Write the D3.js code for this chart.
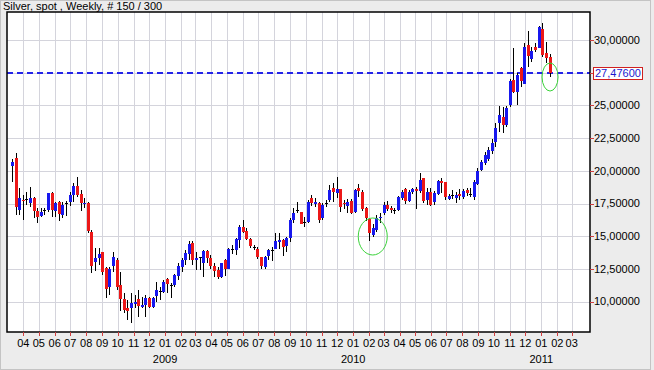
<!DOCTYPE html>
<html lang="en">
<head>
    <meta charset="UTF-8">
    <title>Silver, spot, Weekly</title>
    <style>
        body { margin: 0; background: #ececec; }
        svg { display: block; font-family: Arial, "Liberation Sans", sans-serif; font-size: 11px; }
        .grid line { stroke: #d4d4dc; stroke-width: 1; }
        .wick { stroke: #000; stroke-width: 1; }
    </style>
</head>
<body>
    <script src="https://d3js.org/d3.v7.min.js"></script>
    <script>
        // weekly OHLC, 150 bars, Monday 2008-03-10 .. 2011-01-17
        const weeks = d3.timeMonday.range(new Date(2008, 2, 10), new Date(2011, 0, 18));

        const open = [
            20.31, 21.00, 17.00, 17.80, 17.78, 17.56, 17.94, 16.92, 16.54, 16.95,
            17.00, 18.27, 16.95, 17.64, 16.62, 17.48, 17.64, 18.15, 18.83, 18.22,
            17.46, 17.51, 15.34, 13.05, 13.31, 13.76, 12.54, 11.14, 12.67, 13.18,
            11.27, 10.17, 9.48, 9.48, 9.87, 10.17, 9.61, 9.69, 10.27, 9.56,
            10.45, 10.84, 10.76, 11.70, 11.27, 11.27, 11.96, 12.67, 13.13, 13.64,
            14.50, 13.23, 13.36, 12.97, 13.87, 13.36, 12.72, 12.42, 11.86, 13.18,
            12.49, 14.00, 13.95, 14.76, 15.73, 15.42, 14.79, 14.17, 14.02, 13.38,
            12.67, 13.49, 13.93, 14.07, 14.58, 14.71, 14.20, 14.84, 16.24, 17.00,
            16.88, 16.10, 16.11, 17.89, 17.51, 17.56, 16.37, 17.50, 17.77, 18.66,
            18.30, 18.58, 17.55, 17.30, 17.72, 16.88, 18.66, 18.41, 17.13, 16.32,
            15.05, 15.47, 16.40, 16.75, 17.39, 17.13, 16.95, 17.00, 17.97, 18.58,
            17.72, 18.33, 18.58, 18.48, 19.42, 17.82, 18.40, 17.56, 18.28, 19.25,
            19.17, 17.82, 18.15, 17.90, 18.20, 18.02, 18.53, 18.22, 18.02, 19.04,
            20.06, 20.57, 20.88, 21.46, 22.15, 23.63, 24.14, 23.50, 25.03, 26.94,
            26.05, 27.83, 26.69, 29.62, 28.60, 29.49, 29.36, 30.82, 28.98, 28.70
        ];
        const high = [
            20.90, 21.33, 18.66, 18.15, 18.40, 18.78, 18.02, 17.13, 17.13, 17.13,
            18.27, 18.40, 17.64, 17.69, 17.64, 17.69, 18.40, 19.04, 19.55, 18.53,
            17.89, 17.64, 15.47, 14.07, 14.07, 13.76, 12.67, 12.67, 13.76, 13.30,
            12.29, 10.63, 10.12, 10.63, 10.50, 10.88, 10.37, 10.50, 10.37, 10.37,
            11.52, 11.14, 11.65, 11.78, 11.40, 12.11, 12.93, 13.31, 13.95, 14.66,
            14.66, 13.82, 13.43, 13.95, 13.95, 13.56, 12.93, 12.67, 12.93, 13.23,
            14.12, 14.33, 14.84, 15.86, 16.24, 15.60, 14.84, 14.33, 14.20, 13.43,
            13.49, 14.00, 14.20, 15.22, 15.27, 14.76, 14.97, 16.37, 17.13, 17.64,
            16.88, 16.50, 17.77, 18.15, 17.89, 17.64, 17.51, 17.77, 18.91, 19.05,
            19.55, 18.60, 17.80, 17.82, 17.85, 18.60, 19.00, 18.50, 17.20, 16.40,
            15.95, 16.60, 16.80, 17.60, 17.70, 17.30, 17.15, 18.10, 18.55, 18.70,
            18.50, 18.70, 18.74, 19.86, 19.42, 18.71, 18.66, 18.48, 19.30, 19.42,
            19.17, 18.20, 18.53, 18.40, 18.58, 18.58, 18.70, 18.66, 19.30, 20.19,
            20.85, 21.46, 21.80, 22.40, 23.63, 24.96, 24.85, 24.96, 27.00, 29.36,
            27.50, 27.90, 29.74, 30.71, 29.49, 29.74, 31.07, 31.27, 29.87, 28.90
        ];
        const low = [
            19.16, 16.62, 16.62, 16.23, 17.38, 17.25, 16.36, 15.98, 16.49, 16.62,
            16.82, 16.44, 16.44, 16.18, 16.36, 16.54, 17.33, 17.64, 18.00, 16.95,
            17.13, 15.22, 12.21, 12.36, 12.80, 12.03, 10.25, 10.50, 12.29, 10.88,
            9.30, 9.10, 8.59, 8.40, 9.48, 8.85, 9.48, 8.85, 9.48, 9.48,
            9.99, 10.12, 10.63, 10.63, 10.30, 11.14, 11.65, 12.29, 12.80, 13.18,
            12.80, 12.42, 12.42, 11.90, 12.93, 12.46, 11.90, 11.70, 11.78, 11.96,
            12.46, 13.64, 13.56, 14.07, 15.22, 14.71, 14.07, 13.95, 13.23, 12.46,
            12.46, 13.18, 13.13, 14.00, 14.00, 13.49, 13.82, 14.58, 15.99, 16.75,
            15.93, 15.73, 15.99, 17.31, 17.26, 15.99, 16.24, 17.20, 17.64, 17.64,
            17.90, 16.88, 17.06, 16.80, 16.70, 16.75, 18.00, 16.95, 16.20, 14.60,
            14.95, 15.30, 16.00, 16.60, 16.90, 16.80, 16.70, 16.90, 17.80, 17.50,
            17.60, 18.20, 17.05, 18.33, 17.51, 17.39, 17.31, 17.39, 18.15, 18.28,
            17.77, 17.77, 17.82, 17.51, 17.77, 17.82, 18.10, 18.02, 17.77, 18.91,
            19.95, 20.44, 20.75, 21.30, 21.85, 22.99, 22.87, 23.33, 24.90, 25.92,
            25.03, 26.43, 26.69, 27.96, 28.34, 29.11, 29.36, 28.73, 28.22, 27.15
        ];
        const close = [
            20.64, 17.25, 17.94, 17.72, 17.82, 17.94, 16.95, 16.44, 16.87, 16.98,
            18.27, 17.00, 17.56, 16.69, 17.38, 17.51, 18.15, 18.83, 18.15, 17.51,
            17.56, 15.34, 12.72, 13.36, 13.64, 12.21, 10.93, 12.49, 13.38, 11.14,
            10.17, 9.36, 9.23, 9.87, 10.00, 9.61, 9.74, 10.25, 9.56, 10.27,
            10.88, 10.80, 11.52, 11.34, 11.25, 12.01, 12.72, 13.18, 13.69, 14.40,
            13.23, 13.36, 13.38, 13.87, 13.36, 12.72, 12.37, 11.86, 12.93, 12.46,
            14.02, 14.02, 14.76, 15.73, 15.35, 14.84, 14.25, 14.13, 13.38, 12.67,
            13.43, 13.95, 13.96, 14.66, 14.71, 14.20, 14.84, 16.24, 16.80, 17.02,
            15.99, 16.12, 17.64, 17.51, 17.64, 16.29, 17.38, 17.52, 18.53, 18.35,
            18.58, 17.21, 17.45, 17.62, 16.80, 18.53, 18.41, 17.13, 16.37, 15.22,
            15.60, 16.37, 16.50, 17.39, 17.05, 17.00, 16.97, 17.97, 18.40, 17.64,
            18.40, 18.58, 18.43, 19.30, 17.64, 18.40, 17.39, 18.28, 19.25, 19.10,
            18.02, 18.07, 18.16, 18.15, 18.07, 18.48, 18.28, 18.20, 19.17, 20.01,
            20.70, 21.21, 21.59, 22.10, 23.25, 24.27, 23.50, 24.78, 26.87, 26.05,
            27.33, 26.82, 29.49, 28.78, 29.18, 29.29, 30.97, 28.85, 28.60, 27.476
        ];

        const yTicks = [10, 12.5, 15, 17.5, 20, 22.5, 25, 27.5, 30];
        const title = "Silver, spot , Weekly, # 150 / 300";
        const lastPrice = close[close.length - 1];

        // green circles drawn on the chart
        const marks = [
            {date: new Date(2010, 1, 8), price: 14.98, rx: 14.5, ry: 18.5},
            {date: new Date(2011, 0, 18), price: 27.17, rx: 8, ry: 14}
        ];

        const W = 654, H = 370;
        const plot = {left: 7, right: 590, top: 12, bottom: 332};

        const svg = d3.select("body").append("svg")
            .attr("width", W)
            .attr("height", H);

        svg.append("rect")
            .attr("x", 0.5).attr("y", 0.5)
            .attr("width", W - 4).attr("height", H - 1)
            .attr("fill", "#ececec")
            .attr("stroke", "#c4c4c4");

        const x = d3.scaleTime()
            .domain([new Date(2008, 3, 1), new Date(2011, 2, 1)])
            .range([23.3, 571.7]);

        const y = d3.scaleLinear()
            .domain([7.68, 32.14])
            .range([plot.bottom, plot.top]);

        const months = d3.timeMonth.range(new Date(2008, 3, 1), new Date(2011, 3, 1));
        const px = v => Math.round(v) + 0.5;

        svg.append("rect")
            .attr("x", plot.left).attr("y", plot.top)
            .attr("width", plot.right - plot.left)
            .attr("height", plot.bottom - plot.top)
            .attr("fill", "#fff");

        // grid
        const grid = svg.append("g").attr("class", "grid");
        grid.selectAll("line.v").data(months).join("line")
            .attr("class", "v")
            .attr("x1", d => px(x(d))).attr("x2", d => px(x(d)))
            .attr("y1", plot.top).attr("y2", plot.bottom);
        grid.selectAll("line.h").data(yTicks).join("line")
            .attr("class", "h")
            .attr("x1", plot.left).attr("x2", plot.right)
            .attr("y1", d => px(y(d))).attr("y2", d => px(y(d)));

        // current price line
        svg.append("line")
            .attr("x1", plot.left).attr("x2", plot.right)
            .attr("y1", Math.round(y(lastPrice))).attr("y2", Math.round(y(lastPrice)))
            .attr("stroke", "#2424e8")
            .attr("stroke-width", 2)
            .attr("stroke-dasharray", "6,4");

        const bars = weeks.map((d, i) => ({date: d, o: open[i], h: high[i], l: low[i], c: close[i]}));

        svg.append("g").selectAll("line").data(bars).join("line")
            .attr("class", "wick")
            .attr("x1", d => px(x(d.date))).attr("x2", d => px(x(d.date)))
            .attr("y1", d => Math.round(y(d.h))).attr("y2", d => Math.round(y(d.l)));

        svg.append("g").selectAll("rect").data(bars).join("rect")
            .attr("x", d => Math.round(x(d.date)) - 1)
            .attr("width", 3)
            .attr("y", d => Math.round(y(Math.max(d.o, d.c))))
            .attr("height", d => Math.max(1, Math.round(Math.abs(y(d.o) - y(d.c)))))
            .attr("fill", d => Math.abs(d.c - d.o) < 0.04 ? "#000" : (d.c > d.o ? "#1818ee" : "#ec1818"));

        svg.append("g").selectAll("ellipse").data(marks).join("ellipse")
            .attr("cx", d => x(d.date)).attr("cy", d => y(d.price))
            .attr("rx", d => d.rx).attr("ry", d => d.ry)
            .attr("fill", "none")
            .attr("stroke", "#3ad23a")
            .attr("stroke-width", 1);

        // frame
        svg.append("rect")
            .attr("x", plot.left).attr("y", plot.top)
            .attr("width", plot.right - plot.left)
            .attr("height", plot.bottom - plot.top)
            .attr("fill", "none")
            .attr("stroke", "#000")
            .attr("stroke-width", 1.5);

        // y axis on the right
        const fmt = v => d3.format(".5f")(v).replace(".", ",");
        const yAxis = svg.append("g");
        yAxis.selectAll("line").data(yTicks).join("line")
            .attr("x1", plot.right).attr("x2", plot.right + 4)
            .attr("y1", d => px(y(d))).attr("y2", d => px(y(d)))
            .attr("stroke", "#d04040");
        yAxis.selectAll("text").data(yTicks.filter(d => d !== 27.5)).join("text")
            .attr("x", plot.right + 4)
            .attr("y", d => y(d))
            .attr("dy", "0.35em")
            .attr("fill", "#000")
            .text(fmt);

        // last price label
        svg.append("rect")
            .attr("x", 593.5).attr("y", px(y(lastPrice)) - 6)
            .attr("width", 49).attr("height", 12)
            .attr("fill", "#fff")
            .attr("stroke", "#d02020");
        svg.append("text")
            .attr("x", 595)
            .attr("y", y(lastPrice))
            .attr("dy", "0.35em")
            .attr("fill", "#1a1ad0")
            .text(fmt(lastPrice));

        // x axis
        const xAxis = svg.append("g");
        xAxis.selectAll("line").data(months).join("line")
            .attr("x1", d => px(x(d))).attr("x2", d => px(x(d)))
            .attr("y1", plot.bottom).attr("y2", plot.bottom + 4)
            .attr("stroke", "#d04040");
        xAxis.selectAll("text.m").data(months).join("text")
            .attr("class", "m")
            .attr("x", d => x(d))
            .attr("y", 347)
            .attr("text-anchor", "middle")
            .text(d3.timeFormat("%m"));
        xAxis.selectAll("text.yr").data(months.filter(d => d.getMonth() === 0)).join("text")
            .attr("class", "yr")
            .attr("x", d => x(d))
            .attr("y", 363)
            .attr("text-anchor", "middle")
            .text(d3.timeFormat("%Y"));

        svg.append("text")
            .attr("x", 3).attr("y", 10)
            .text(title);
    </script>
</body>
</html>
